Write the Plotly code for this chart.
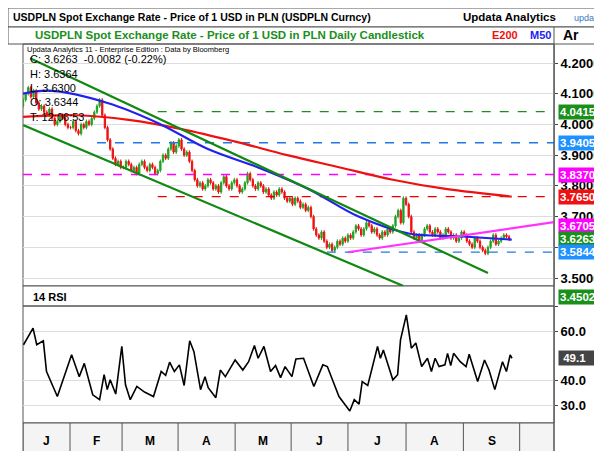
import plotly.graph_objects as go

closes = [
 4.08,4.10,4.12,4.09,4.11, 4.07,4.05,4.06,4.04,4.03, 4.05,4.02,4.00,4.01,4.03, 4.02,4.00,3.99,
 3.99,4.01,3.98,3.97,4.00, 3.99,4.01,4.00,4.02,4.04, 4.06,4.08,4.03,3.99,3.95, 3.92,3.89,3.87,3.88,3.86,
 3.86,3.88,3.87,3.85,3.86, 3.84,3.87,3.88,3.86,3.85, 3.87,3.86,3.84,3.85,3.88, 3.90,3.89,3.92,3.94,3.91, 3.93,
 3.95,3.92,3.90,3.91,3.88, 3.85,3.82,3.80,3.81,3.79, 3.80,3.82,3.81,3.79,3.80, 3.78,3.81,3.83,3.80,3.79, 3.81,3.82,
 3.80,3.78,3.79,3.81,3.84, 3.82,3.80,3.79,3.81,3.80, 3.78,3.79,3.77,3.76,3.78, 3.77,3.79,3.78,3.76,3.75, 3.76,
 3.74,3.76,3.75,3.73,3.74, 3.72,3.73,3.70,3.66,3.64, 3.63,3.65,3.62,3.60,3.61, 3.59,3.60,3.62,3.61,3.63, 3.62,3.64,
 3.63,3.65,3.67,3.66,3.64, 3.66,3.68,3.67,3.65,3.66, 3.64,3.63,3.65,3.64,3.66, 3.65,3.67,3.70,3.72,3.68, 3.76,3.74,3.70,
 3.65,3.63,3.64,3.62,3.64, 3.66,3.67,3.65,3.64,3.66, 3.65,3.63,3.64,3.66,3.65, 3.63,3.64,3.62,3.63,3.65,
 3.64,3.62,3.61,3.60,3.63, 3.62,3.60,3.59,3.58,3.60, 3.62,3.64,3.61,3.62,3.63, 3.64,3.6344,3.6263]
first_open = 4.06
wick = 0.006

e200_day = [0,20,40,60,80,100,120,140,160,185]
e200_val = [4.025,4.03,4.015,3.985,3.945,3.90,3.86,3.82,3.79,3.765]
m50_day = [0,10,32,51,70,89,108,127,146,165,185]
m50_val = [4.10,4.11,4.07,4.005,3.92,3.86,3.79,3.70,3.645,3.636,3.625]

rsi_day = [0.2,3.8,5.2,7.7,8.9,13,18.4,21.3,23.2,26.4,29,30.7,31.9,33,35.1,37.4,38.8,40.6,43.1,46,49.4,52.3,54,55.5,57.3,59.2,61,63.1,64.7,67.2,68.9,70.1,73,74.7,76.6,80.3,83.2,85.4,87.6,89,91.2,93.7,95.6,97.5,99.2,101.8,103.3,106.2,110.1,113.5,115.2,119.6,123.7,125.4,127.2,128.4,130.5,132.4,134.2,135.3,136.4,140,141.8,142.9,145.1,147,148.7,150.9,153.1,154.6,156,157.5,159.7,160.7,161.9,163,165.5,167.7,168.9,172.1,174.7,176.4,178.6,181.5,183,184.4,185.1]
rsi_val = [54.6,61.4,54.6,56.2,43.7,33.5,50.5,41.6,47,34.2,32.2,42.4,36.3,40.3,34.5,54,38.3,32.2,37.6,35.3,33.5,43.7,42.1,47.5,43.7,46.4,38,56.2,51.8,36.3,41.6,37.1,33,44.3,41.6,48.4,44.3,47.7,54.3,49.1,53.9,43.7,46.1,41.2,45.7,41.6,48.8,49.1,37.6,46.4,45.7,33.5,27.6,32.2,30.4,39.6,38,46.4,53.9,49.1,52.5,40.3,42.4,56.6,66.8,53.2,55.3,45.7,49.1,43.7,49.1,45.7,46.4,51.1,46.1,51.1,47.7,45.7,50.7,39.6,48.4,44.3,36.3,47.7,43.7,50.5,49.1]

months = ["J","F","M","A","M","J","J","A","S"]
month_bounds = [0,17.8,37.5,58.7,80.3,101.5,123,145,166.7,188]

upper_ch = ([2.7,176],[4.216,3.516])
lower_ch = ([0,144],[3.998,3.474])
support = ([123,201],[3.584,3.682])
hlines = [(4.0415,51,"#1a8f1a"),(3.9405,28,"#1e7be0"),(3.837,0,"#ff00ff"),(3.765,51,"#ee0000"),(3.5844,115,"#1e7be0")]
badges = [(4.0415,"4.0415","#1a8f1a"),(3.9405,"3.9405","#1e90ff"),(3.837,"3.8370","#ff00ff"),(3.765,"3.7650","#ee1111"),
          (3.668,"3.6705","#ff00ff"),(3.6263,"3.6263","#1a8f1a"),(3.5844,"3.5844","#1e90ff")]

days = list(range(len(closes)))
opens = [first_open] + closes[:-1]
highs = [max(o, c) + wick for o, c in zip(opens, closes)]
lows = [min(o, c) - wick for o, c in zip(opens, closes)]

XR = [0, 201]
fig = go.Figure()
fig.add_trace(go.Candlestick(x=days, open=opens, high=highs, low=lows, close=closes,
    increasing=dict(line=dict(color="#22a022", width=1), fillcolor="#22a022"),
    decreasing=dict(line=dict(color="#ee1111", width=1), fillcolor="#ee1111"),
    whiskerwidth=0, xaxis="x", yaxis="y", showlegend=False, hoverinfo="skip"))
for yv, x0, col in hlines:
    fig.add_trace(go.Scatter(x=[x0, XR[1]], y=[yv, yv], mode="lines", line=dict(color=col, width=1.3, dash="dash"), showlegend=False))
fig.add_trace(go.Scatter(x=e200_day, y=e200_val, mode="lines", line=dict(color="#ee1111", width=2.2, shape="spline"), showlegend=False))
fig.add_trace(go.Scatter(x=m50_day, y=m50_val, mode="lines", line=dict(color="#2222ee", width=2.2, shape="spline"), showlegend=False))
for ln in (upper_ch, lower_ch):
    fig.add_trace(go.Scatter(x=ln[0], y=ln[1], mode="lines", line=dict(color="#118811", width=2.2), showlegend=False))
fig.add_trace(go.Scatter(x=support[0], y=support[1], mode="lines", line=dict(color="#ff33ff", width=2.2), showlegend=False))
fig.add_trace(go.Scatter(x=rsi_day, y=rsi_val, mode="lines", line=dict(color="black", width=1.6), xaxis="x2", yaxis="y2", showlegend=False))

D = [15/602, 546/602]
TF = dict(family="Liberation Sans", size=13, color="black")
fig.update_layout(
    width=602, height=451, margin=dict(l=0, r=0, t=0, b=0),
    paper_bgcolor="white", plot_bgcolor="white",
    xaxis=dict(domain=D, range=XR, visible=False, rangeslider=dict(visible=False)),
    yaxis=dict(domain=[1-278/451, 1-36/451], range=[3.474, 4.262], side="right",
               tickvals=[3.5,3.6,3.7,3.8,3.9,4.0,4.1,4.2], ticktext=["<b>3.5000</b>","","<b>3.7000</b>","<b>3.8000</b>","<b>3.9000</b>","<b>4.0000</b>","<b>4.1000</b>","<b>4.2000</b>"],
               tickfont=TF, showgrid=True, gridcolor="#dddddd",
               zeroline=False, ticks="outside", ticklen=3, showline=True, linecolor="#888"),
    xaxis2=dict(domain=D, range=XR, visible=False, anchor="y2"),
    yaxis2=dict(domain=[1-415/451, 1-298/451], range=[22.7, 70.4], side="right", anchor="x2",
                tickvals=[30,40,60,70], ticktext=["<b>30.0</b>","<b>40.0</b>","<b>60.0</b>",""],
                tickfont=TF, showgrid=True, gridcolor="#dddddd",
                zeroline=False, ticks="outside", ticklen=3, showline=True, linecolor="#888"),
)

shapes = []
def rect(x0, y0, x1, y1, fill=None, line="#666", w=1):
    shapes.append(dict(type="rect", xref="paper", yref="paper", x0=x0/602, x1=x1/602, y0=1-y1/451, y1=1-y0/451,
                       fillcolor=fill, line=dict(color=line, width=w), layer="below"))
rect(0, 0, 602, 19, "white", "#555")
rect(0, 19, 602, 36, "white", "#555")
rect(15, 36, 546, 278, None, "#555")
rect(15, 278, 546, 298, "white", "#555")
rect(15, 298, 546, 415, None, "#555")
rect(15, 415, 546, 451, "#f4f4f4", "#555")
shapes.append(dict(type="line", xref="paper", yref="paper", x0=546/602, x1=546/602, y0=0, y1=1-19/451, line=dict(color="#555", width=1)))
for b in month_bounds:
    shapes.append(dict(type="line", xref="x2", yref="paper", x0=b, x1=b, y0=0, y1=36/451, line=dict(color="#555", width=1)))
fig.update_layout(shapes=shapes)

ann = []
def txt(x, y, s, size=12, color="black", bold=False, xanchor="left", family="Liberation Sans"):
    ann.append(dict(xref="paper", yref="paper", x=x/602, y=1-y/451, text=("<b>%s</b>" % s) if bold else s, showarrow=False,
                    xanchor=xanchor, yanchor="middle", font=dict(size=size, color=color, family=family)))
txt(3, 9, "USDPLN Spot Exchange Rate - Price of 1 USD in PLN (USDPLN Curncy)", 10.5, bold=True)
txt(453, 9, "Updata Analytics", 11.5, bold=True)
txt(596, 10, "updata", 9, color="#3a78c4", xanchor="right")
txt(25, 27, "USDPLN Spot Exchange Rate - Price of 1 USD in PLN Daily Candlestick", 11.5, color="#1a8f1a", bold=True)
txt(482, 27, "E200", 11, color="#ee1111", bold=True)
txt(520, 27, "M50", 11, color="#2222ee", bold=True)
txt(553, 27, "Ar", 14, bold=True)
txt(17, 41, "Updata Analytics 11 - Enterprise Edition : Data by Bloomberg", 7.5)
for i, s in enumerate(["C: 3.6263  -0.0082 (-0.22%)", "H: 3.6364", "L: 3.6300", "O: 3.6344", "T: 12:06:53"]):
    txt(20, 51 + i*14.5, s, 11)
txt(23, 289, "14 RSI", 11, bold=True)
for i, m in enumerate(months):
    ann.append(dict(xref="x2", yref="paper", x=(month_bounds[i]+month_bounds[i+1])/2, y=1-442/451, text="<b>%s</b>" % m,
                    showarrow=False, font=dict(size=12, family="Liberation Sans", color="black")))
BF = dict(size=11.5, color="white", family="Liberation Sans")
for yv, s, col in badges:
    ann.append(dict(xref="paper", yref="y", x=550/602, y=yv, text="<b>%s</b>" % s, showarrow=False, xanchor="left",
                    font=BF, bgcolor=col, borderpad=1))
ann.append(dict(xref="paper", yref="paper", x=550/602, y=1-289/451, text="<b>3.4502</b>", showarrow=False, xanchor="left",
                font=BF, bgcolor="#1a8f1a", borderpad=1))
ann.append(dict(xref="paper", yref="y2", x=550/602, y=49.1, text="<b> 49.1   </b>", showarrow=False, xanchor="left",
                font=BF, bgcolor="#444444", borderpad=1))
fig.update_layout(annotations=ann)
fig.write_html("out.html")
